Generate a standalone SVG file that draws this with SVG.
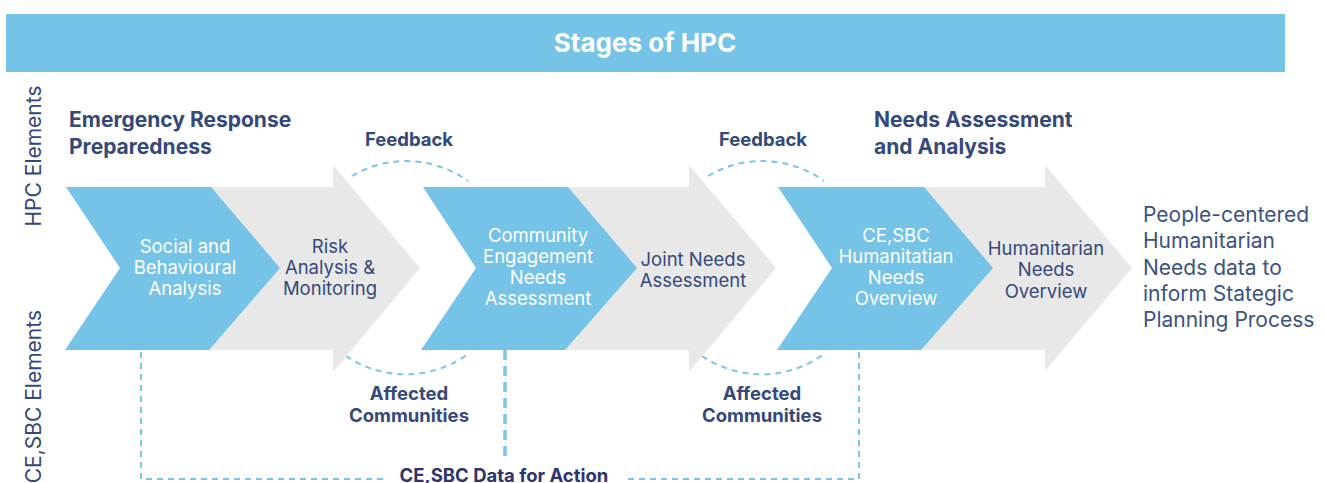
<svg xmlns="http://www.w3.org/2000/svg" width="1325" height="483" viewBox="0 0 1325 483">
<style>
  text { font-family: Inter, "Noto Sans", "Liberation Sans", sans-serif; }
  .blue { fill: #76C3E8; }
  .gray { fill: #E8E8E8; }
  .wt { fill: #FFFFFF; font-size: 18.5px; text-anchor: middle; }
  .dt { fill: #34497A; font-size: 18.5px; text-anchor: middle; }
  .hd { fill: #34497A; font-size: 21px; font-weight: 700; }
  .lb { fill: #34497A; font-size: 18.5px; font-weight: 700; text-anchor: middle; }
  .side { fill: #34497A; font-size: 21px; }
  .out { fill: #3B5283; font-size: 21px; }
  .dash { fill: none; stroke: #7CC4EA; stroke-width: 2; stroke-dasharray: 6 5; }
  .dashThick { fill: none; stroke: #7CC4EA; stroke-width: 3.5; stroke-dasharray: 10 6; }
</style>
<rect id="banner" x="6" y="14" width="1279" height="58" class="blue"/>
<text x="645" y="52" style="fill:#fff;font-size:26px;font-weight:700;text-anchor:middle">Stages of HPC</text>

<g id="side-labels">
  <text class="side" transform="translate(41,156) rotate(-90)" text-anchor="middle">HPC Elements</text>
  <text class="side" transform="translate(41,310) rotate(-90)" text-anchor="end">CE,SBC Elements</text>
</g>

<g id="header-erp">
  <text class="hd" x="69" y="127">Emergency Response</text>
  <text class="hd" x="69" y="154">Preparedness</text>
</g>
<g id="header-naa">
  <text class="hd" x="874" y="127">Needs Assessment</text>
  <text class="hd" x="874" y="154">and Analysis</text>
</g>

<g id="connectors">
  <path class="dash" d="M352,176 A106,106 0 0 1 468,181"/>
  <path class="dash" d="M346,356 A106,106 0 0 0 468,354"/>
  <path class="dash" d="M708,176 A106,106 0 0 1 824,181"/>
  <path class="dash" d="M702,356 A106,106 0 0 0 824,354"/>
  <path class="dash" d="M141,352 V479 H384"/>
  <path class="dash" d="M628,479 H859 V352"/>
  <path class="dashThick" d="M505,350 V458"/>
</g>

<g id="node-risk">
  <polygon class="gray" points="200,187 333,187 333,165 420,268 333,372 333,350 200,350"/>
  <text class="dt" x="330" y="253">Risk</text>
  <text class="dt" x="330" y="274">Analysis &amp;</text>
  <text class="dt" x="330" y="295">Monitoring</text>
</g>
<g id="node-sba">
  <polygon class="blue" points="66,187 211,187 280,268 209,350 65,350 120,268"/>
  <text class="wt" x="185" y="253">Social and</text>
  <text class="wt" x="185" y="274">Behavioural</text>
  <text class="wt" x="185" y="295">Analysis</text>
</g>

<g id="node-jna">
  <polygon class="gray" points="556,187 689,187 689,165 776,268 689,372 689,350 556,350"/>
  <text class="dt" x="693" y="266">Joint Needs</text>
  <text class="dt" x="693" y="287">Assessment</text>
</g>
<g id="node-cena">
  <polygon class="blue" points="423,187 568,187 637,268 565,350 421,350 476,268"/>
  <text class="wt" x="538" y="242">Community</text>
  <text class="wt" x="538" y="263">Engagement</text>
  <text class="wt" x="538" y="284">Needs</text>
  <text class="wt" x="538" y="305">Assessment</text>
</g>

<g id="node-hno">
  <polygon class="gray" points="912,187 1045,187 1045,165 1132,268 1045,371 1045,350 912,350"/>
  <text class="dt" x="1046" y="255">Humanitarian</text>
  <text class="dt" x="1046" y="276">Needs</text>
  <text class="dt" x="1046" y="298">Overview</text>
</g>
<g id="node-cehno">
  <polygon class="blue" points="778,187 924,187 993,268 921,350 777,350 832,268"/>
  <text class="wt" x="896" y="242">CE,SBC</text>
  <text class="wt" x="896" y="263">Humanitatian</text>
  <text class="wt" x="896" y="284">Needs</text>
  <text class="wt" x="896" y="305">Overview</text>
</g>

<g id="label-feedback-1"><text class="lb" x="409" y="146">Feedback</text></g>
<g id="label-feedback-2"><text class="lb" x="763" y="146">Feedback</text></g>
<g id="label-affected-1">
  <text class="lb" x="409" y="400">Affected</text>
  <text class="lb" x="409" y="422">Communities</text>
</g>
<g id="label-affected-2">
  <text class="lb" x="762" y="400">Affected</text>
  <text class="lb" x="762" y="422">Communities</text>
</g>
<g id="label-data">
  <text x="504" y="482" style="fill:#2D3370;font-size:18.5px;font-weight:700;text-anchor:middle">CE,SBC Data for Action</text>
</g>

<g id="node-output">
  <text class="out" x="1143" y="222">People-centered</text>
  <text class="out" x="1143" y="248">Humanitarian</text>
  <text class="out" x="1143" y="275">Needs data to</text>
  <text class="out" x="1143" y="301">inform Stategic</text>
  <text class="out" x="1143" y="327">Planning Process</text>
</g>
</svg>
